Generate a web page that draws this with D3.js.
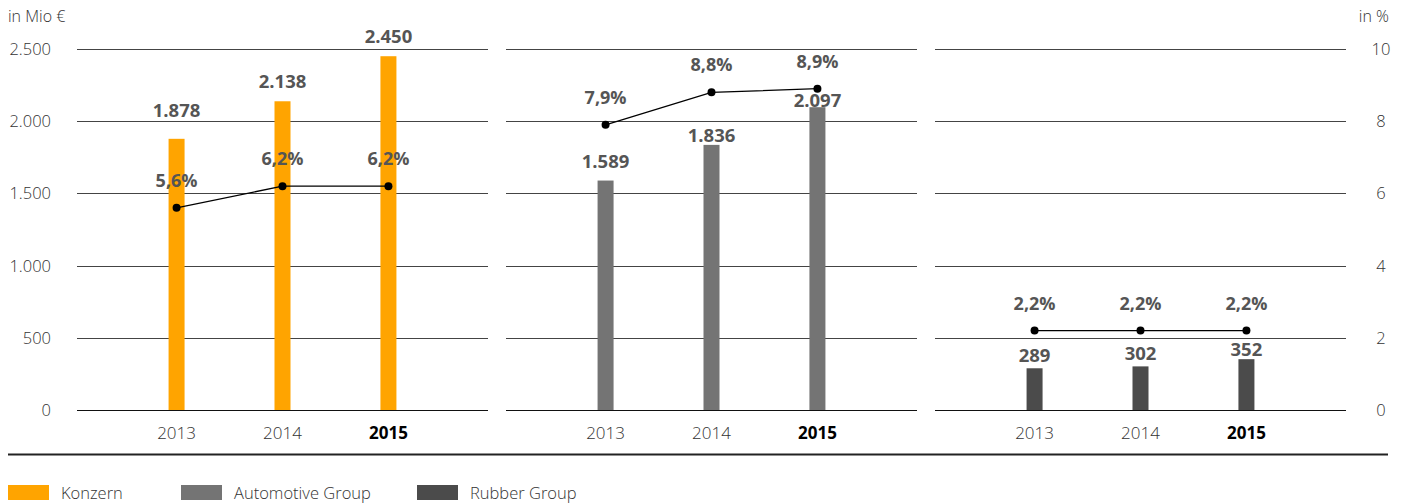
<!DOCTYPE html>
<html>
<head>
<meta charset="utf-8">
<script src="https://cdn.jsdelivr.net/npm/d3@7"></script>
<style>
  body { margin: 0; background: #fff; }
  text { font-family: "Open Sans", sans-serif; }
</style>
</head>
<body>
<div id="wrapper"></div>
<script>
// data
const years = ['2013', '2014', '2015'];
const groups = ['Konzern', 'Automotive Group', 'Rubber Group'];
const ebitValues = [
    [1878, 2138, 2450],
    [1589, 1836, 2097],
    [289, 302, 352]
];
const marginPct = [
    [5.6, 6.2, 6.2],
    [7.9, 8.8, 8.9],
    [2.2, 2.2, 2.2]
];
const leftTicks = [0, 500, 1000, 1500, 2000, 2500];
const rightTicks = [0, 2, 4, 6, 8, 10];
const colors = ['#ffa400', '#747474', '#4b4b4b'];
// gap between bar top and value label (squeezed where line labels sit)
const labelGap = [
    [22, 13, 13],
    [13, 3, 0],
    [6, 6, 3]
];

const fmtNum = d3.formatLocale({ decimal: ',', thousands: '.', grouping: [3], currency: ['', ' €'] });
const fmtInt = fmtNum.format(',d');
const fmtPct = fmtNum.format('.1f');

function draw() {
    const dimensions = {
        width: 1402,
        height: 504,
        top: 49,
        bottom: 410,
        panelLeft: 77,
        panelWidth: 411,
        panelStep: 429
    };

    const svg = d3.select('#wrapper').append('svg')
        .attr('width', dimensions.width)
        .attr('height', dimensions.height);

    const yScale = d3.scaleLinear()
        .domain([0, 2500])
        .range([dimensions.bottom, dimensions.top]);
    const pScale = d3.scaleLinear()
        .domain([0, 10])
        .range([dimensions.bottom, dimensions.top]);

    // axis labels
    svg.append('text').attr('x', 8).attr('y', 22)
        .style('font-size', '16px').style('font-weight', 300).attr('fill', '#333')
        .text('in Mio €');
    svg.append('text').attr('x', 1389).attr('y', 22).attr('text-anchor', 'end')
        .style('font-size', '16px').style('font-weight', 300).attr('fill', '#333')
        .text('in %');

    svg.append('g').selectAll('text').data(leftTicks).join('text')
        .attr('x', 51).attr('y', d => yScale(d) + 6)
        .attr('text-anchor', 'end')
        .style('font-size', '16.5px').style('font-weight', 300).attr('fill', '#333')
        .text(d => fmtInt(d));
    svg.append('g').selectAll('text').data(rightTicks).join('text')
        .attr('x', 1381).attr('y', d => pScale(d) + 6)
        .attr('text-anchor', 'middle')
        .style('font-size', '16.5px').style('font-weight', 300).attr('fill', '#333')
        .text(d => d);

    groups.forEach((g, i) => {
        const x0 = dimensions.panelLeft + i * dimensions.panelStep;
        const xScale = d3.scalePoint()
            .domain(years)
            .range([x0, x0 + dimensions.panelWidth])
            .padding(0.94);
        const panel = svg.append('g');

        // gridlines
        panel.selectAll('line.grid').data(leftTicks).join('line')
            .attr('class', 'grid')
            .attr('x1', x0).attr('x2', x0 + dimensions.panelWidth)
            .attr('y1', d => Math.round(yScale(d)) + 0.5)
            .attr('y2', d => Math.round(yScale(d)) + 0.5)
            .attr('stroke', d => d === 0 ? '#111' : '#444')
            .attr('stroke-width', 1.2);

        // bars
        const barW = 16;
        panel.selectAll('rect').data(ebitValues[i]).join('rect')
            .attr('x', (d, j) => xScale(years[j]) - barW / 2)
            .attr('y', d => yScale(d))
            .attr('width', barW)
            .attr('height', d => yScale(0) - yScale(d))
            .attr('fill', colors[i]);

        panel.selectAll('text.val').data(ebitValues[i]).join('text')
            .attr('class', 'val')
            .attr('x', (d, j) => xScale(years[j]))
            .attr('y', (d, j) => yScale(d) - labelGap[i][j])
            .attr('text-anchor', 'middle')
            .style('font-size', '18.5px').style('font-weight', 700).attr('fill', '#555')
            .text(d => fmtInt(d));

        // line
        const line = d3.line()
            .x((d, j) => xScale(years[j]))
            .y(d => pScale(d));
        panel.append('path').datum(marginPct[i])
            .attr('d', line)
            .attr('fill', 'none')
            .attr('stroke', '#000')
            .attr('stroke-width', 1.3);
        panel.selectAll('circle').data(marginPct[i]).join('circle')
            .attr('cx', (d, j) => xScale(years[j]))
            .attr('cy', d => pScale(d))
            .attr('r', 4)
            .attr('fill', '#000');
        panel.selectAll('text.pct').data(marginPct[i]).join('text')
            .attr('class', 'pct')
            .attr('x', (d, j) => xScale(years[j]))
            .attr('y', d => pScale(d) - 21)
            .attr('text-anchor', 'middle')
            .style('font-size', '18px').style('font-weight', 700).attr('fill', '#555')
            .text(d => fmtPct(d) + '%');

        // year labels
        panel.selectAll('text.yr').data(years).join('text')
            .attr('class', 'yr')
            .attr('x', d => xScale(d))
            .attr('y', 439)
            .attr('text-anchor', 'middle')
            .style('font-size', '17px')
            .style('font-weight', d => d === '2015' ? 700 : 300)
            .attr('fill', d => d === '2015' ? '#000' : '#333')
            .text(d => d);
    });

    // separator
    svg.append('line')
        .attr('x1', 8).attr('x2', 1388)
        .attr('y1', 454.5).attr('y2', 454.5)
        .attr('stroke', '#222').attr('stroke-width', 2);

    // legend
    const legendX = [8, 181, 417];
    const legend = svg.append('g').selectAll('g').data(groups).join('g')
        .attr('transform', (d, i) => `translate(${legendX[i]},485)`);
    legend.append('rect')
        .attr('width', 41).attr('height', 15)
        .attr('fill', (d, i) => colors[i]);
    legend.append('text')
        .attr('x', 53).attr('y', 14)
        .style('font-size', '16.5px').style('font-weight', 300).attr('fill', '#333')
        .text(d => d);
}

draw();
</script>
</body>
</html>
